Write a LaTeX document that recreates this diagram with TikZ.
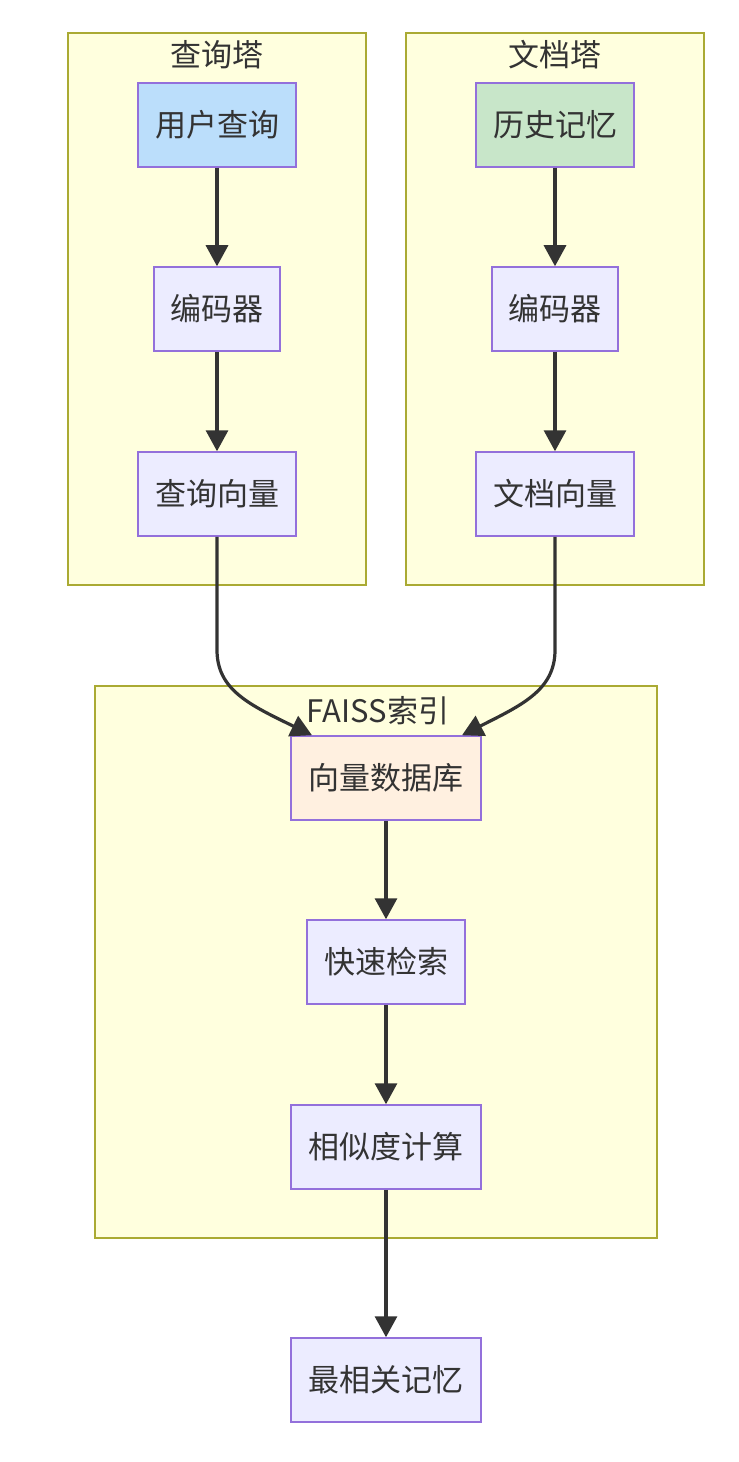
\documentclass[tikz,border=0pt]{standalone}
\usepackage{fontspec}
\setmainfont{Noto Sans CJK SC}
\usetikzlibrary{arrows.meta}
\definecolor{clfill}{HTML}{FFFFDE}
\definecolor{cldraw}{HTML}{AAAA33}
\definecolor{ndfill}{HTML}{ECECFF}
\definecolor{nddraw}{HTML}{9370DB}
\definecolor{bluefill}{HTML}{BBDEFB}
\definecolor{greenfill}{HTML}{C8E6C9}
\definecolor{orangefill}{HTML}{FFF0E0}
\definecolor{edge}{HTML}{333333}
\definecolor{txt}{HTML}{333333}
\tikzset{
  cluster/.style={fill=clfill, draw=cldraw, line width=1.3bp},
  cltitle/.style={text=txt, font=\fontsize{31bp}{35bp}\selectfont, inner sep=0pt},
  box/.style={fill=ndfill, draw=nddraw, line width=1.5bp, text=txt,
     font=\fontsize{31bp}{35bp}\selectfont, minimum height=84bp, inner sep=0pt},
  flow/.style={draw=edge, line width=3.2bp, -{Triangle[length=21bp,width=22bp]}},
}
\begin{document}
\begin{tikzpicture}[x=1bp,y=-1bp]
\useasboundingbox (0,0) rectangle (738,1462);
% clusters
\draw[cluster] (68,33) rectangle (366,585);
\draw[cluster] (406,33) rectangle (704,585);
\draw[cluster] (95,686) rectangle (657,1238);
\node[cltitle] (tq) at (217,55) {查询塔};
\node[cltitle] (td) at (555,55) {文档塔};
\node[cltitle] (tf) at (378,711) {FAISS索引};
% nodes
\node[box, fill=bluefill, minimum width=158bp] (uq) at (217,125) {用户查询};
\node[box, minimum width=126bp] (enc1) at (217,309) {编码器};
\node[box, minimum width=158bp] (qv) at (217,494) {查询向量};
\node[box, fill=greenfill, minimum width=158bp] (hm) at (555,125) {历史记忆};
\node[box, minimum width=126bp] (enc2) at (555,309) {编码器};
\node[box, minimum width=158bp] (dv) at (555,494) {文档向量};
\node[box, fill=orangefill, minimum width=190bp] (db) at (386,778) {向量数据库};
\node[box, minimum width=158bp] (fs) at (386,962) {快速检索};
\node[box, minimum width=190bp] (sim) at (386,1147) {相似度计算};
\node[box, minimum width=190bp] (best) at (386,1380) {最相关记忆};
% edges
\draw[flow] (uq) -- (enc1);
\draw[flow] (enc1) -- (qv);
\draw[flow] (hm) -- (enc2);
\draw[flow] (enc2) -- (dv);
\draw[flow] (qv.south) -- (217,650) .. controls (217,690) and (250,705) .. (db.north west -| 312,736);
\draw[flow] (dv.south) -- (555,650) .. controls (555,690) and (522,705) .. (db.north east -| 462,736);
\draw[flow] (db) -- (fs);
\draw[flow] (fs) -- (sim);
\draw[flow] (sim) -- (best);
\end{tikzpicture}
\end{document}
